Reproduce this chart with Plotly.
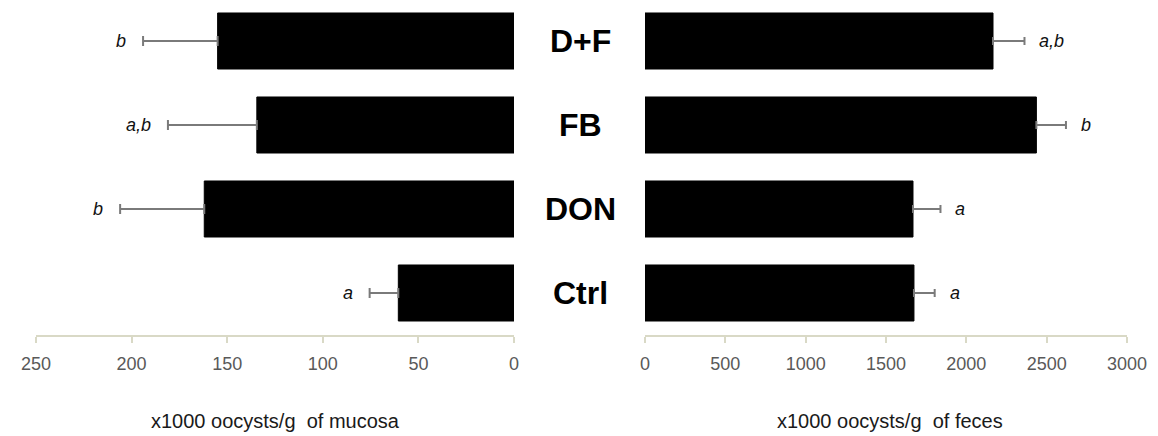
import plotly.graph_objects as go

groups = ["Ctrl", "DON", "FB", "D+F"]
mucosa = [60.5, 162, 134.5, 155]
mucosa_err = [15, 44, 46.5, 39]
mucosa_letters = ["a", "b", "a,b", "b"]
feces = [1674, 1668, 2436, 2166]
feces_err = [129, 171, 184, 196]
feces_letters = ["a", "a", "b", "a,b"]
mucosa_ticks = [0, 50, 100, 150, 200, 250]
feces_ticks = [0, 500, 1000, 1500, 2000, 2500, 3000]
zeros = [0, 0, 0, 0]

FONT = "Arial, Liberation Sans, sans-serif"
AXIS_COLOR = "#d9d9c6"
ERR_COLOR = "#7a7a7a"

# page body has an 8px margin; figure is sized to the remaining window area
W, H = 1150, 428
OFF = 8

def px(xw):
    return (xw - OFF) / W

def py(yw):
    return (H - (yw - OFF)) / H

fig = go.Figure()
fig.add_trace(go.Bar(
    y=groups, x=mucosa, orientation="h", xaxis="x", yaxis="y",
    marker=dict(color="black", line=dict(color="black", width=1)),
    error_x=dict(type="data", symmetric=False, array=mucosa_err, arrayminus=zeros,
                 color=ERR_COLOR, thickness=2, width=5),
    width=0.667, showlegend=False,
))
fig.add_trace(go.Bar(
    y=groups, x=feces, orientation="h", xaxis="x2", yaxis="y2",
    marker=dict(color="black", line=dict(color="black", width=1)),
    error_x=dict(type="data", symmetric=False, array=feces_err, arrayminus=zeros,
                 color=ERR_COLOR, thickness=2, width=4),
    width=0.667, showlegend=False,
))

annotations = []
for g, v, e, t in zip(groups, mucosa, mucosa_err, mucosa_letters):
    annotations.append(dict(x=v + e, y=g, xref="x", yref="y", text=t, showarrow=False,
                            xanchor="right", xshift=-15,
                            font=dict(family=FONT, size=18, color="#111111", style="italic")))
for g, v, e, t in zip(groups, feces, feces_err, feces_letters):
    annotations.append(dict(x=v + e, y=g, xref="x2", yref="y2", text=t, showarrow=False,
                            xanchor="left", xshift=13,
                            font=dict(family=FONT, size=18, color="#111111", style="italic")))
for g in groups:
    annotations.append(dict(x=px(580), y=g, xref="paper", yref="y", text="<b>%s</b>" % g,
                            showarrow=False, xanchor="center",
                            font=dict(family=FONT, size=32, color="black")))
annotations.append(dict(x=px(275), y=py(421), xref="paper", yref="paper",
                        text="x1000 oocysts/g  of mucosa", showarrow=False, xanchor="center",
                        yanchor="middle", font=dict(family=FONT, size=20, color="#1a1a1a")))
annotations.append(dict(x=px(890), y=py(421), xref="paper", yref="paper",
                        text="x1000 oocysts/g  of feces", showarrow=False, xanchor="center",
                        yanchor="middle", font=dict(family=FONT, size=20, color="#1a1a1a")))

xcommon = dict(showgrid=False, zeroline=False, showline=True, linecolor=AXIS_COLOR, linewidth=2,
               ticks="outside", ticklen=6, tickwidth=2, tickcolor=AXIS_COLOR, automargin=False,
               tickfont=dict(family=FONT, size=18, color="#595959"), ticklabelstandoff=5)

axis_y = 335  # window pixel of the category axis baseline
plot_h = axis_y - OFF
cat_px = 84.0
y_range = [-0.5, -0.5 + plot_h / cat_px]

fig.update_layout(
    width=W, height=H,
    margin=dict(l=0, r=0, t=0, b=0, autoexpand=False),
    paper_bgcolor="white", plot_bgcolor="white",
    xaxis=dict(domain=[px(36), px(514)], range=[250, 0], anchor="y",
               tickvals=mucosa_ticks, **xcommon),
    xaxis2=dict(domain=[px(645), px(1127)], range=[0, 3000], anchor="y2",
                tickvals=feces_ticks, **xcommon),
    yaxis=dict(domain=[py(axis_y), 1.0], range=y_range, visible=False, anchor="x"),
    yaxis2=dict(domain=[py(axis_y), 1.0], range=y_range, visible=False, anchor="x2"),
    annotations=annotations,
    bargap=0.333,
)

fig.write_html("out.html")
